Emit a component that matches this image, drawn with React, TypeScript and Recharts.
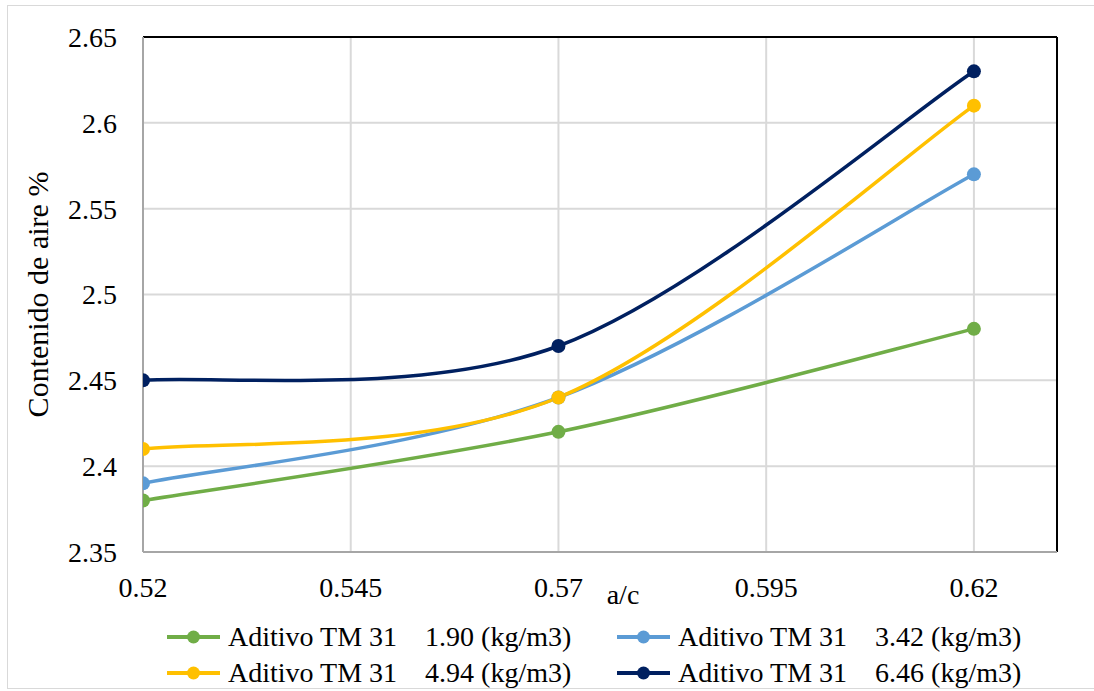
import React from 'react';
import { LineChart, Line, XAxis, YAxis, CartesianGrid, ReferenceLine, Legend } from 'recharts';

// Water/cement ratio (a/c) for each mix
const ratios = [0.52, 0.57, 0.62];

// Air content (%) per additive dosage
const dose190 = [2.38, 2.42, 2.48];
const dose342 = [2.39, 2.44, 2.57];
const dose494 = [2.41, 2.44, 2.61];
const dose646 = [2.45, 2.47, 2.63];

const seriesKeys = ['d190', 'd342', 'd494', 'd646'];
const seriesNames = [
  'Aditivo TM 31    1.90 (kg/m3)',
  'Aditivo TM 31    3.42 (kg/m3)',
  'Aditivo TM 31    4.94 (kg/m3)',
  'Aditivo TM 31    6.46 (kg/m3)',
];
const seriesColors = ['#70AD47', '#5B9BD5', '#FFC000', '#002060'];

const xTicks = [0.52, 0.545, 0.57, 0.595, 0.62];
const yTicks = [2.35, 2.4, 2.45, 2.5, 2.55, 2.6, 2.65];
const xDomain = [0.52, 0.63];
const yDomain = [2.35, 2.65];

const xTitle = 'a/c';
const yTitle = 'Contenido de aire %';

const FONT = 'Liberation Serif';

const data = ratios.map((r, i) => ({
  ac: r,
  d190: dose190[i],
  d342: dose342[i],
  d494: dose494[i],
  d646: dose646[i],
}));

// Smoothed line built from cubic Bezier segments whose control points
// follow the neighbouring points (Catmull-Rom style, 1/6 tension).
function smoothCurve(context: any) {
  let pts: number[][] = [];
  return {
    areaStart() {},
    areaEnd() {},
    lineStart() {
      pts = [];
    },
    point(x: number, y: number) {
      pts.push([+x, +y]);
    },
    lineEnd() {
      const n = pts.length;
      if (!n) return;
      context.moveTo(pts[0][0], pts[0][1]);
      for (let i = 0; i < n - 1; i++) {
        const p0 = pts[Math.max(i - 1, 0)];
        const p1 = pts[i];
        const p2 = pts[i + 1];
        const p3 = pts[Math.min(i + 2, n - 1)];
        context.bezierCurveTo(
          p1[0] + (p2[0] - p0[0]) / 6,
          p1[1] + (p2[1] - p0[1]) / 6,
          p2[0] - (p3[0] - p1[0]) / 6,
          p2[1] - (p3[1] - p1[1]) / 6,
          p2[0],
          p2[1]
        );
      }
    },
  };
}

const LegendBox = () => (
  <div
    style={{
      display: 'grid',
      gridTemplateColumns: '450px 450px',
      width: 900,
      height: 72,
      marginLeft: 167,
      fontFamily: FONT,
      fontSize: 28,
      color: '#000',
    }}
  >
    {seriesKeys.map((k, i) => (
      <div key={k} style={{ display: 'flex', alignItems: 'center', height: 36, whiteSpace: 'pre' }}>
        <svg width={53} height={16} style={{ flex: 'none' }}>
          <line x1={0} y1={8} x2={53} y2={8} stroke={seriesColors[i]} strokeWidth={4} />
          <circle cx={26.5} cy={8} r={6.5} fill={seriesColors[i]} />
        </svg>
        <span style={{ marginLeft: 8, fontFamily: FONT }}>{seriesNames[i]}</span>
      </div>
    ))}
  </div>
);

const YTitle = (props: any) => {
  const vb = props.viewBox || {};
  const cx = vb.x + 37;
  const cy = vb.y + vb.height / 2;
  return (
    <text
      x={cx}
      y={cy}
      transform={`rotate(-90 ${cx} ${cy})`}
      textAnchor="middle"
      dominantBaseline="central"
      style={{ fontFamily: FONT, fontSize: 30 }}
      fill="#000"
    >
      {yTitle}
    </text>
  );
};

const XTitle = (props: any) => {
  const vb = props.viewBox || {};
  const cx = vb.x + vb.width / 2 + 23;
  const by = vb.y + 52;
  return (
    <text x={cx} y={by} textAnchor="middle" style={{ fontFamily: FONT, fontSize: 28 }} fill="#000">
      {xTitle}
    </text>
  );
};

const tickStyle = { fill: '#000', fontSize: 28, fontFamily: FONT, style: { fontFamily: FONT } };

export default function App() {
  return (
    <div
      style={{
        position: 'absolute',
        left: 0,
        top: 0,
        width: 1094,
        height: 691,
        background: '#fff',
        overflow: 'hidden',
        fontFamily: FONT,
      }}
    >
      <div
        style={{
          position: 'absolute',
          left: 7,
          top: 5,
          width: 1095,
          height: 682,
          border: '1px solid #D9D9D9',
        }}
      />
      <LineChart
        width={1094}
        height={691}
        data={data}
        margin={{ top: 37, right: 37, bottom: 0, left: 0 }}
        style={{ fontFamily: FONT }}
      >
        <CartesianGrid stroke="#D9D9D9" strokeWidth={2} />
        <XAxis
          dataKey="ac"
          type="number"
          domain={xDomain}
          ticks={xTicks}
          allowDataOverflow
          height={67}
          tickSize={0}
          tickMargin={25}
          tickLine={false}
          axisLine={{ stroke: '#A6A6A6', strokeWidth: 2 }}
          tick={tickStyle}
          tickFormatter={(v: number) => String(v)}
          label={{ content: XTitle }}
        />
        <YAxis
          type="number"
          domain={yDomain}
          ticks={yTicks}
          allowDataOverflow
          width={143}
          tickSize={0}
          tickMargin={26}
          tickLine={false}
          axisLine={{ stroke: '#A6A6A6', strokeWidth: 2 }}
          tick={tickStyle}
          tickFormatter={(v: number) => String(v)}
          label={{ content: YTitle }}
        />
        <ReferenceLine y={yDomain[1]} stroke="#000" strokeWidth={2} />
        <ReferenceLine x={xDomain[1]} stroke="#000" strokeWidth={2} />
        {seriesKeys.map((k, i) => (
          <Line
            key={k}
            dataKey={k}
            name={seriesNames[i]}
            type={smoothCurve as any}
            stroke={seriesColors[i]}
            strokeWidth={3.5}
            dot={{ r: 7, fill: seriesColors[i], stroke: 'none' }}
            activeDot={false}
            isAnimationActive={false}
          />
        ))}
        <Legend
          verticalAlign="bottom"
          content={LegendBox}
          wrapperStyle={{ left: 0, width: 1094, bottom: 0 }}
        />
      </LineChart>
    </div>
  );
}
